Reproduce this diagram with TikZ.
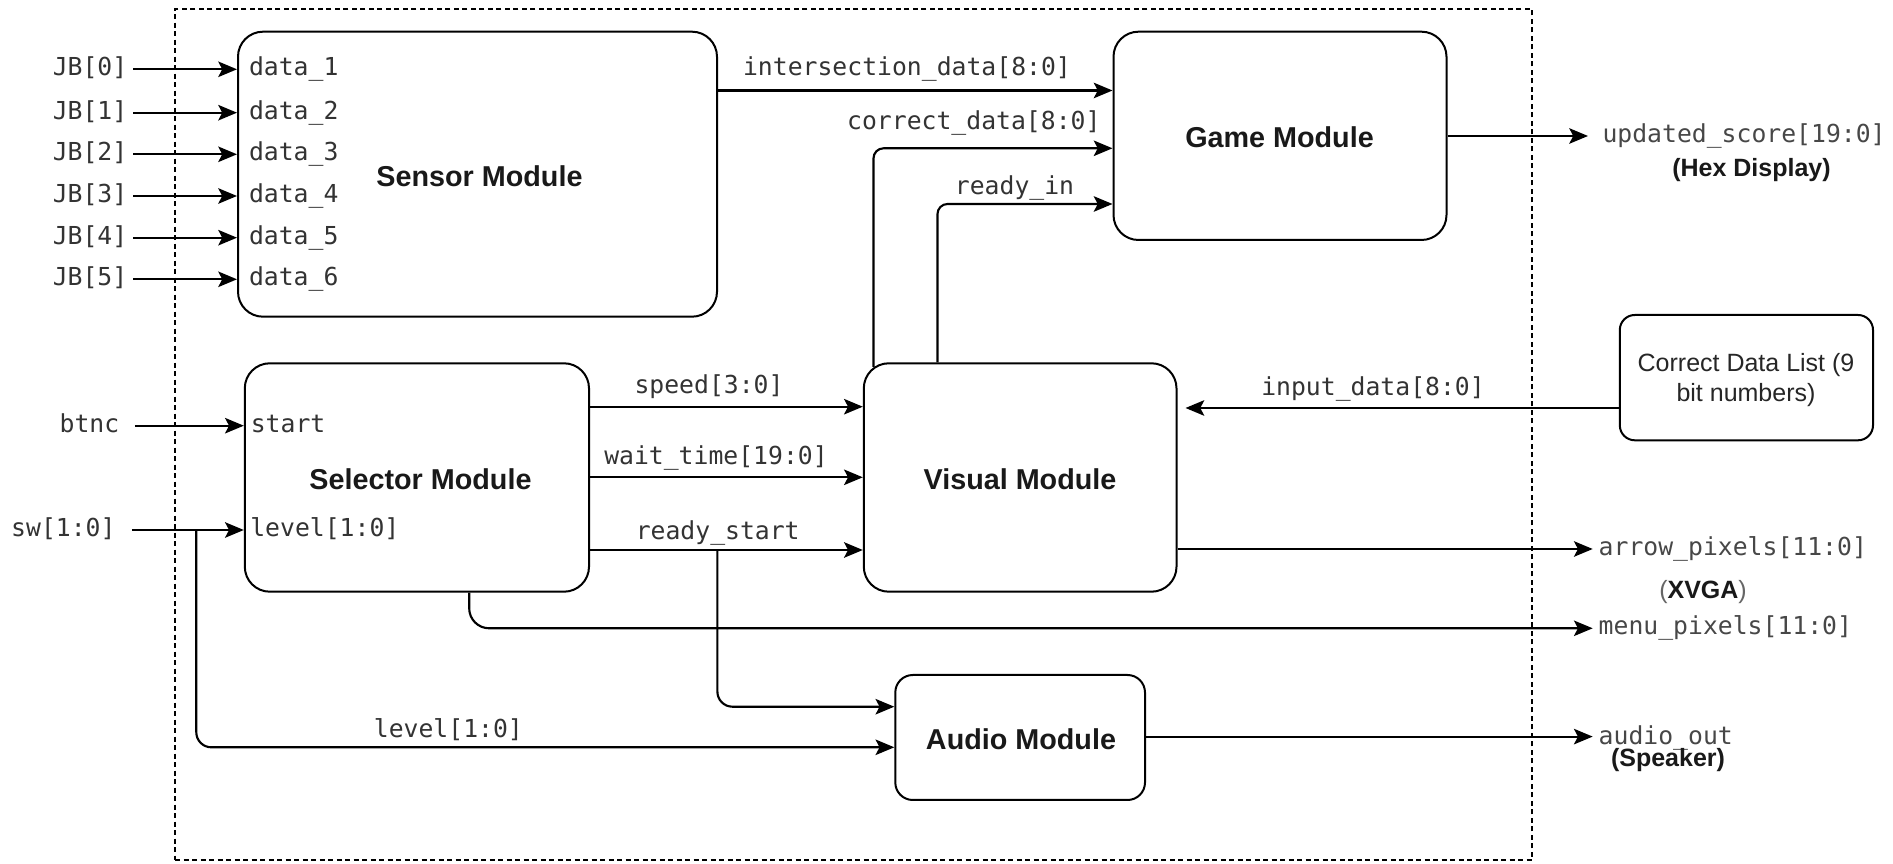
\documentclass[tikz,border=0pt]{standalone}
\usepackage{fontspec}
\setmainfont{Liberation Sans}
\setmonofont{DejaVu Sans Mono}
\usetikzlibrary{arrows.meta,fit,calc}

\begin{document}
\begin{tikzpicture}[x=0.4pt,y=-0.4pt,
  module/.style={draw, line width=0.8pt, rounded corners=10pt, inner sep=0pt},
  title/.style={font=\fontsize{11.5}{13}\selectfont\bfseries, text=black!90, inner sep=0pt},
  ext/.style={draw, line width=0.8pt, rounded corners=6pt, inner sep=0pt},
  sig/.style={font=\ttfamily\fontsize{9.9}{11}\selectfont, text=black!80,
    inner ysep=0pt, inner xsep=0pt, text height=7.2pt, text depth=2pt},
  outsig/.style={sig, text=black!72, anchor=west, inner xsep=2.2pt},
  note/.style={font=\fontsize{10}{11}\selectfont\bfseries, text=black!90, inner sep=0pt},
  wire/.style={line width=0.85pt},
  arr/.style={wire, -{Stealth[length=7.5pt,width=6.2pt,inset=1.6pt]}},
  bendwire/.style={rounded corners=4pt}
]
\useasboundingbox (0,0) rectangle (1893,864);

% FPGA boundary
\node[draw, dash pattern=on 2pt off 1.4pt, line width=0.6pt, inner sep=0pt,
  fit={(175,9) (1532,860)}] (fpga) {};

% modules
\node[module, fit={(238,31.7) (717,316.7)}] (sensor) {};
\node[title] (sensorlbl) at (479.5,176) {Sensor Module};
\node[module, fit={(1113.5,31.7) (1446.5,240)}] (game) {};
\node[title] (gamelbl) at (1279.5,137.7) {Game Module};
\node[module, fit={(244.8,363.3) (589,591.7)}] (sel) {};
\node[title] (sellbl) at (420.5,479.3) {Selector Module};
\node[module, fit={(863.8,363.3) (1176.5,591.7)}] (vis) {};
\node[title] (vislbl) at (1020,479.3) {Visual Module};
\node[module, rounded corners=7pt, fit={(895.3,675) (1145,800)}] (audio) {};
\node[title] (audiolbl) at (1021,739) {Audio Module};
\node[ext, fit={(1619.8,315) (1873,440.3)}] (cdl) {};
\node[align=center, inner sep=0pt, font=\fontsize{10}{11.8}\selectfont, text=black!85]
  (cdllbl) at (1746,380) {Correct Data List (9\\bit numbers)};

% sensor inputs
\foreach \i/\y in {0/69.3,1/112.7,2/154.3,3/196,4/237.7,5/279.3}{
  \node[sig, anchor=east, inner xsep=2.2pt] (jb\i) at (133.3,\y) {JB[\i]};
  \draw[arr] (jb\i.east) -- (jb\i.east -| sensor.west);
}
\foreach \i/\y in {1/69.3,2/112.7,3/154.3,4/196,5/237.7,6/279.3}{
  \node[sig, anchor=west, inner xsep=1.8pt] (data\i) at (244,\y) {data\_\i};
}

% selector inputs
\node[sig, anchor=east, inner xsep=6pt] (btnc) at (134.8,425.7) {btnc};
\draw[arr] (btnc.east) -- (btnc.east -| sel.west);
\node[sig, anchor=west, inner xsep=2.2pt] (startlbl) at (244.8,425.7) {start};
\node[sig, anchor=east, inner xsep=6.3pt] (sw) at (131.8,530) {sw[1:0]};
\draw[arr] (sw.east) -- (sw.east -| sel.west);
\node[sig, anchor=west, inner xsep=2pt] (levellbl) at (244.8,530) {level[1:0]};
\coordinate (swsplit) at (196.3,530);
\draw[arr, rounded corners=6pt] (swsplit) |- (audio.west |- 0,747.3);
\node[sig] (levelbot) at (448.4,730.7) {level[1:0]};

% sensor to game
\draw[arr] (sensor.east |- 0,90.5) -- (game.west |- 0,90.5);
\node[sig] (interlbl) at (907,69.3) {intersection\_data[8:0]};

% selector to visual
\draw[arr] (sel.east |- 0,406.7) -- (vis.west |- 0,406.7);
\node[sig] (speedlbl) at (709,386.7) {speed[3:0]};
\draw[arr] (sel.east |- 0,477.3) -- (vis.west |- 0,477.3);
\node[sig] (waitlbl) at (716,458.3) {wait\_time[19:0]};
\draw[arr] (sel.east |- 0,550) -- (vis.west |- 0,550);
\node[sig] (readystartlbl) at (717.7,533.3) {ready\_start};
\coordinate (rssplit) at (717.4,550);
\draw[arr, rounded corners=6pt] (rssplit) |- (audio.west |- 0,706.7);

% visual to game
\coordinate (vcd) at ($(vis.north west)+(10.7,4.5)$);
\draw[arr, bendwire] (vcd) |- (game.west |- 0,148.3);
\node[sig, anchor=east] (cdlbl) at (1101,123.3) {correct\_data[8:0]};
\draw[arr, bendwire] (vis.north -| 937.5,0) |- (game.west |- 0,204);
\node[sig] (readyinlbl) at (1014.5,188) {ready\_in};

% correct data list to visual
\draw[arr, shorten >=3.2pt] (cdl.west |- 0,408) -- (vis.east |- 0,408);
\node[sig] (inputlbl) at (1373,389) {input\_data[8:0]};

% outputs
\node[outsig, inner xsep=5.6pt] (score) at (1588,136) {updated\_score[19:0]};
\draw[arr] (game.east |- score.west) -- (score.west);
\node[note] (hex) at (1751.5,170) {(Hex Display)};

\node[outsig] (arrowpx) at (1592.7,549) {arrow\_pixels[11:0]};
\draw[arr] (vis.east |- arrowpx.west) -- (arrowpx.west);
\node[note] (xvga) at (1703,591.7) {{\mdseries\color{black!60}(}XVGA{\mdseries\color{black!60})}};

\node[outsig] (menupx) at (1592.7,628.3) {menu\_pixels[11:0]};
\draw[arr, rounded corners=8pt] (sel.south -| 469.2,0) |- (menupx.west);

\node[outsig, text depth=1.2pt] (audioout) at (1592.7,736.6) {audio\_out};
\draw[arr] (audio.east |- audioout.west) -- (audioout.west);
\node[note] (speaker) at (1668,760.5) {(Speaker)};
\end{tikzpicture}
\end{document}
